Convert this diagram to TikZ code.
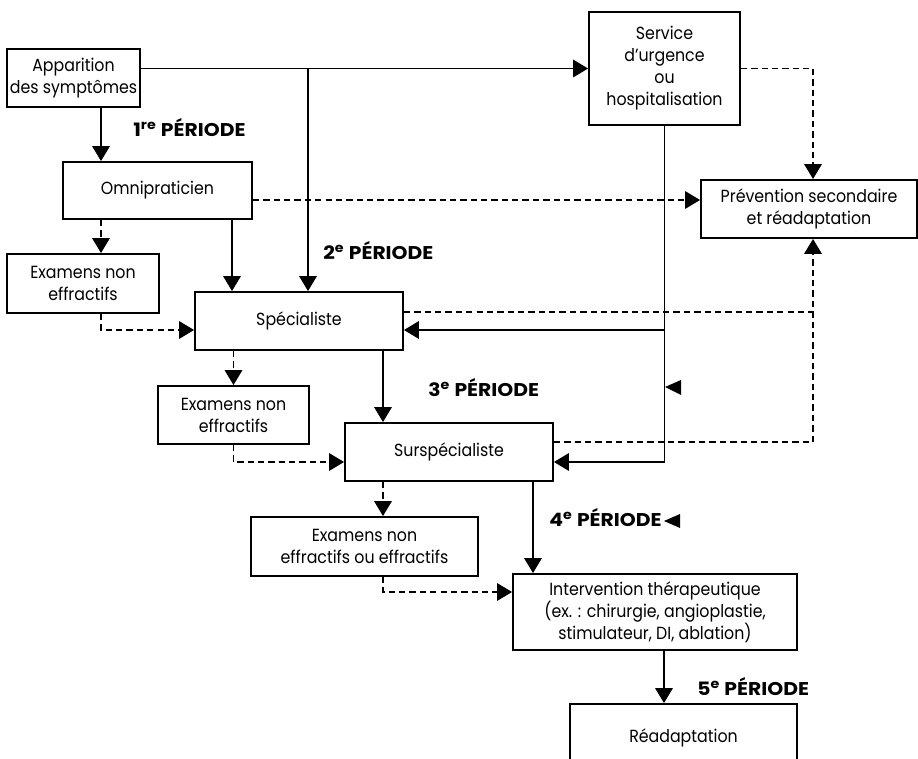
\documentclass[tikz,border=0pt]{standalone}
\usepackage{fontspec}
\setmainfont{Poppins}[FakeStretch=0.9]
\newfontfamily\perfont{Poppins}[FakeStretch=1.1]
\usetikzlibrary{arrows.meta}
\tikzset{
  blk/.style={draw,line width=1.1pt,align=center,inner sep=0pt,font=\fontsize{10}{12.5}\selectfont},
  pline/.style={line width=0.8pt,-{Triangle[length=8.5pt,width=10pt]}},
  dline/.style={pline,dash pattern=on 3.6pt off 2.3pt},
  dplain/.style={line width=0.8pt,dash pattern=on 3.6pt off 2.3pt},
  per/.style={anchor=west,inner sep=0pt,font=\perfont\bfseries\fontsize{10.5}{12}\selectfont}
}
\begin{document}
\begin{tikzpicture}[x=0.02cm,y=-0.02cm]
\useasboundingbox (0,0) rectangle (918,759);
% boxes
\node[blk,minimum width=2.66cm,minimum height=1.16cm] (apparition) at (73.5,78) {Apparition\\des symptômes};
\node[blk,minimum width=3.78cm,minimum height=1.14cm] (omni) at (157.5,190.5) {Omnipraticien};
\node[blk,minimum width=3.04cm,minimum height=1.18cm] (exam1) at (83,283.5) {Examens non\\effractifs};
\node[blk,minimum width=4.16cm,minimum height=1.16cm] (spec) at (299,321) {Spécialiste};
\node[blk,minimum width=3.02cm,minimum height=1.16cm] (exam2) at (233.5,415) {Examens non\\effractifs};
\node[blk,minimum width=4.16cm,minimum height=1.16cm] (surspec) at (449,452) {Surspécialiste};
\node[blk,minimum width=4.54cm,minimum height=1.18cm] (exam3) at (364.5,546.5) {Examens non\\effractifs ou effractifs};
\node[blk,minimum width=5.68cm,minimum height=1.52cm] (interv) at (655,612) {Intervention thérapeutique\\(ex. : chirurgie, angioplastie,\\stimulateur, DI, ablation)};
\node[blk,minimum width=4.54cm,minimum height=1.36cm] (readapt) at (683.5,738) {Réadaptation};
\node[blk,minimum width=3.02cm,minimum height=2.26cm] (urgence) at (664.5,68.5) {Service\\d’urgence\\ou\\hospitalisation};
\node[blk,minimum width=4.32cm,minimum height=1.16cm] (prevention) at (809,209) {Prévention secondaire\\et réadaptation};
% columns and rows of the connectors
\coordinate (c1) at (101,0);
\coordinate (c2) at (232,0);
\coordinate (c3) at (308,0);
\coordinate (c4) at (383,0);
\coordinate (c5) at (533,0);
\coordinate (c6) at (664,0);
\coordinate (c7) at (813,0);
\coordinate (r1) at (0,200);
\coordinate (r2) at (0,312);
\coordinate (r3) at (0,330);
\coordinate (r4) at (0,442);
\coordinate (r5) at (0,462);
\coordinate (r6) at (0,592);
% connectors
\draw[pline] (apparition.east |- urgence.west) -- (urgence.west);
\draw[pline] (c3 |- urgence.west) -- (spec.north -| c3);
\draw[pline] (apparition.south -| c1) -- (omni.north -| c1);
\draw[dline] (omni.east |- r1) -- (prevention.west |- r1);
\draw[pline] (omni.south -| c2) -- (spec.north -| c2);
\draw[dline] (omni.south -| c1) -- (exam1.north -| c1);
\draw[dline] (exam1.south -| c1) |- (spec.west |- r3);
\draw[dplain] (spec.east |- r2) -- (c7 |- r2);
\draw[dline] (surspec.east |- r4) -| (prevention.south -| c7);
\draw[pline] (urgence.south) |- (surspec.east |- r5);
\draw[pline] (c6 |- r3) -- (spec.east |- r3);
\draw[dline] (urgence.east) -| (prevention.north -| c7);
\draw[dline] (spec.south -| exam2.north) -- (exam2.north);
\draw[pline] (spec.south -| c4) -- (surspec.north -| c4);
\draw[dline] (exam2.south) |- (surspec.west |- r5);
\draw[dline] (surspec.south -| c4) -- (exam3.north -| c4);
\draw[pline] (surspec.south -| c5) -- (interv.north -| c5);
\draw[dline] (exam3.south -| c4) |- (interv.west |- r6);
\draw[pline] (interv.south -| c6) -- (readapt.north -| c6);
% loose triangles
\fill (665,387) -- (681,380) -- (681,395) -- cycle;
\fill (664,521) -- (680,514) -- (680,528) -- cycle;
% periods
\node[per] (p1) at (133,128) {1\textsuperscript{re} PÉRIODE};
\node[per] (p2) at (323,251) {2\textsuperscript{e} PÉRIODE};
\node[per] (p3) at (428,388) {3\textsuperscript{e} PÉRIODE};
\node[per] (p4) at (549,518) {4\textsuperscript{e} PÉRIODE};
\node[per] (p5) at (697,687) {5\textsuperscript{e} PÉRIODE};
\end{tikzpicture}
\end{document}
